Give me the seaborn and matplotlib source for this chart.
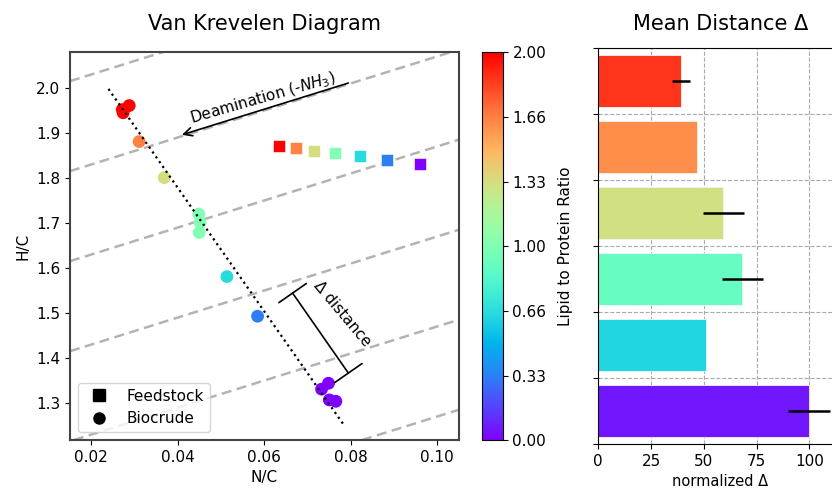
import numpy as np
import pandas as pd
import matplotlib
matplotlib.use("Agg")
import matplotlib.pyplot as plt
import seaborn as sns
from matplotlib.lines import Line2D
from matplotlib.colors import Normalize
from matplotlib.cm import ScalarMappable

# ---------------- data ----------------
feed_nc = [0.0635, 0.0674, 0.0716, 0.0765, 0.0822, 0.0884, 0.0961]
feed_hc = [1.872, 1.867, 1.861, 1.855, 1.848, 1.841, 1.831]
feed_ratio = [2.0, 1.66, 1.33, 1.0, 0.66, 0.33, 0.0]

bio_nc = [0.0274, 0.0288, 0.0272, 0.0311, 0.0369, 0.0449, 0.0452, 0.0450,
          0.0514, 0.0585, 0.0733, 0.0749, 0.0751, 0.0766]
bio_hc = [1.945, 1.961, 1.952, 1.881, 1.801, 1.720, 1.701, 1.679,
          1.581, 1.493, 1.331, 1.344, 1.307, 1.304]
bio_ratio = [2.0, 2.0, 2.0, 1.66, 1.33, 1.0, 1.0, 1.0, 0.66, 0.33, 0.0, 0.0, 0.0, 0.0]

trend_nc = [0.0240, 0.0787]
trend_hc = [1.998, 1.248]

deam_slope = 3.0
deam_intercepts = [0.97, 1.17, 1.37, 1.57, 1.77, 1.97]

cbar_ticks = [0.0, 1/3, 2/3, 1.0, 4/3, 5/3, 2.0]
cbar_ticklabels = ["0.00", "0.33", "0.66", "1.00", "1.33", "1.66", "2.00"]

bar_groups = ["2.00", "1.66", "1.33", "1.00", "0.66", "0.00"]
bar_values = [39.2, 46.7, 59.3, 68.3, 51.2, 100.0]
bar_err = [4.2, 0.0, 9.9, 9.9, 0.0, 10.0]
bar_color_ratio = [1.86, 1.62, 1.32, 0.90, 0.63, 0.06]

# ---------------- figure ----------------
W, H = 832, 488
fig = plt.figure(figsize=(W / 100, H / 100), dpi=100)
plt.rcParams['font.family'] = ['DejaVu Sans']

def frac(l, t, r, b):
    return [l / W, 1 - b / H, (r - l) / W, (b - t) / H]

ax = fig.add_axes(frac(70, 52, 459, 440))
cax = fig.add_axes(frac(482.3, 52.3, 502.7, 440.3))
axb = fig.add_axes(frac(598.3, 48, 842, 444))

cmap = plt.get_cmap("rainbow")
norm = Normalize(0, 2)

# dashed deamination guide lines
for b in deam_intercepts:
    ax.axline((0, b), slope=deam_slope, color="#b3b3b3", lw=1.8,
              dashes=(4, 2.2), zorder=1)

# trend line
ax.plot(trend_nc, trend_hc, color="black", ls=":", lw=1.6, zorder=4)

df_feed = pd.DataFrame({"nc": feed_nc, "hc": feed_hc, "ratio": feed_ratio})
df_bio = pd.DataFrame({"nc": bio_nc, "hc": bio_hc, "ratio": bio_ratio})
sns.scatterplot(data=df_feed, x="nc", y="hc", hue="ratio", palette="rainbow",
                hue_norm=(0, 2), marker="s", s=75, edgecolor="white",
                linewidth=0.4, legend=False, ax=ax, zorder=3)
sns.scatterplot(data=df_bio, x="nc", y="hc", hue="ratio", palette="rainbow",
                hue_norm=(0, 2), marker="o", s=85, edgecolor="none",
                linewidth=0, legend=False, ax=ax, zorder=3)

ax.set_xlim(0.0151, 0.1051)
ax.set_ylim(1.218, 2.080)
ax.set_xticks([0.02, 0.04, 0.06, 0.08, 0.10])
ax.set_xticklabels(["0.02", "0.04", "0.06", "0.08", "0.10"])
ax.set_yticks([1.3, 1.4, 1.5, 1.6, 1.7, 1.8, 1.9, 2.0])
ax.tick_params(labelsize=11)
ax.set_xlabel("N/C", fontsize=11)
ax.set_ylabel("H/C", fontsize=11)
ax.set_title("Van Krevelen Diagram", fontsize=15, pad=16)
for s in ax.spines.values():
    s.set_color("#444444")
    s.set_linewidth(1.5)

# annotations
ax.annotate("", xy=(0.0410, 1.896), xytext=(0.0795, 2.011),
            arrowprops=dict(arrowstyle="->", lw=1.2, color="black",
                            shrinkA=0, shrinkB=0, mutation_scale=15))
ax.text(0.0598, 1.977, "Deamination (-$NH_3$)", rotation=16,
        ha="center", va="center", fontsize=11)
ax.annotate("", xy=(0.0795, 1.3667), xytext=(0.0666, 1.5444),
            arrowprops=dict(arrowstyle="|-|,widthA=0.6,widthB=0.6", lw=1.2,
                            color="black", shrinkA=0, shrinkB=0,
                            mutation_scale=20))
ax.text(0.0780, 1.498, "Δ distance", rotation=-50, ha="center",
        va="center", fontsize=11)

handles = [Line2D([], [], marker="s", color="black", ls="none", markersize=8),
           Line2D([], [], marker="o", color="black", ls="none", markersize=8)]
ax.legend(handles, ["Feedstock", "Biocrude"], loc="lower left", fontsize=11)

# colorbar
sm = ScalarMappable(norm=norm, cmap=cmap)
cb = fig.colorbar(sm, cax=cax)
cb.set_ticks(cbar_ticks)
cb.set_ticklabels(cbar_ticklabels)
cb.ax.tick_params(labelsize=11)
cb.set_label("Lipid to Protein Ratio", fontsize=11, labelpad=8)

# bar chart
bar_colors = [cmap(norm(r)) for r in bar_color_ratio]
df_bar = pd.DataFrame({"group": bar_groups, "val": bar_values})
sns.barplot(data=df_bar, x="val", y="group", hue="group", palette=bar_colors,
            saturation=1, orient="h", width=0.8, errorbar=None, legend=False,
            ax=axb, edgecolor="#f4f4f4", linewidth=0.6, zorder=2)
axb.errorbar(bar_values, np.arange(len(bar_values)), xerr=bar_err, fmt="none",
             ecolor="black", elinewidth=1.8, capsize=0, zorder=4)
axb.set_xlim(0, 115.5)
axb.set_ylim(len(bar_values) - 0.5, -0.5)
axb.set_yticks(np.arange(-0.5, len(bar_values), 1.0))
axb.set_yticklabels([])
axb.set_xticks([0, 25, 50, 75, 100])
axb.tick_params(labelsize=11)
axb.set_ylabel("")
axb.set_xlabel("normalized Δ", fontsize=10.5)
axb.set_title("Mean Distance Δ", fontsize=15, pad=13)
axb.grid(True, ls="--", color="#aaaaaa", lw=0.8, zorder=0)
axb.set_axisbelow(True)

fig.savefig("out.png", dpi=100)
